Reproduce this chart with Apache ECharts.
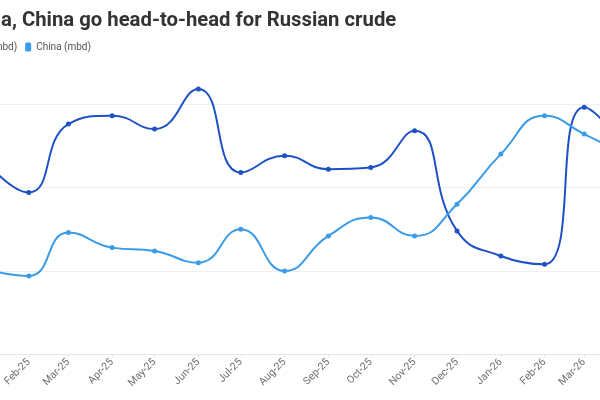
<!DOCTYPE html>
<html>
<head>
    <meta charset="utf-8">
    <title>India, China go head-to-head for Russian crude</title>
    <script src="https://cdn.jsdelivr.net/npm/echarts@6/dist/echarts.min.js"></script>
    <style>
        html, body { margin: 0; padding: 0; width: 600px; height: 400px; overflow: hidden; background: #fff; }
        #main { position: absolute; left: -60px; top: 0; width: 720px; height: 400px; }
    </style>
</head>
<body>
    <div id="main"></div>
    <script>
    var months = ['2025-01-01', '2025-02-01', '2025-03-01', '2025-04-01', '2025-05-01', '2025-06-01',
        '2025-07-01', '2025-08-01', '2025-09-01', '2025-10-01', '2025-11-01', '2025-12-01',
        '2026-01-01', '2026-02-01', '2026-03-01', '2026-04-01'];
    var india = [1.66, 1.47, 1.88, 1.93, 1.85, 2.09, 1.59, 1.69, 1.61, 1.62, 1.84, 1.24, 1.09, 1.04, 1.98, 1.72];
    var china = [1.01, 0.97, 1.23, 1.14, 1.12, 1.05, 1.25, 1.00, 1.21, 1.32, 1.21, 1.40, 1.70, 1.93, 1.82, 1.69];
    var monthNames = ['Jan', 'Feb', 'Mar', 'Apr', 'May', 'Jun', 'Jul', 'Aug', 'Sep', 'Oct', 'Nov', 'Dec'];

    function pairs(vals) {
        return months.map(function (m, i) { return [m, vals[i]]; });
    }

    var chart = echarts.init(document.getElementById('main'));
    var DAY = 24 * 3600 * 1000;

    var option = {
        animation: false,
        title: {
            text: 'India, China go head-to-head for Russian crude',
            left: 22,
            top: 6,
            textStyle: { fontFamily: 'Roboto', fontSize: 20.3, fontWeight: 'bold', color: '#333' }
        },
        legend: {
            left: 10,
            top: 37,
            icon: 'roundRect',
            itemWidth: 6,
            itemHeight: 9,
            itemGap: 8,
            textStyle: { fontFamily: 'Roboto', fontSize: 10, color: '#555' },
            data: ['India (mbd)', 'China (mbd)']
        },
        grid: { left: 45, right: 32, top: 20.5, bottom: 45.5, containLabel: false },
        xAxis: {
            type: 'time',
            min: '2025-01-01',
            max: '2026-04-01',
            minInterval: 28 * DAY,
            maxInterval: 31 * DAY,
            axisLine: { lineStyle: { color: '#e6e6e6' } },
            axisTick: { show: true, length: 3, lineStyle: { color: '#e6e6e6' } },
            splitLine: { show: false },
            axisLabel: {
                rotate: 45,
                fontFamily: 'Roboto',
                fontSize: 10.5,
                color: '#707070',
                margin: 6,
                formatter: function (v) {
                    var d = new Date(v);
                    return monthNames[d.getMonth()] + '-' + String(d.getFullYear()).slice(2);
                }
            }
        },
        yAxis: {
            type: 'value',
            min: 0.5,
            max: 2.5,
            interval: 0.5,
            axisLine: { show: false },
            axisTick: { show: false },
            axisLabel: { show: false },
            splitLine: { showMaxLine: false, showMinLine: false, lineStyle: { color: '#efefef' } }
        },
        series: [{
            name: 'India (mbd)',
            type: 'line',
            smooth: true,
            symbol: 'circle',
            symbolSize: 5,
            color: '#1f51c6',
            lineStyle: { width: 2 },
            data: pairs(india)
        }, {
            name: 'China (mbd)',
            type: 'line',
            smooth: true,
            symbol: 'circle',
            symbolSize: 5,
            color: '#3a9be8',
            lineStyle: { width: 2 },
            data: pairs(china)
        }]
    };
    chart.setOption(option);
    </script>
</body>
</html>
